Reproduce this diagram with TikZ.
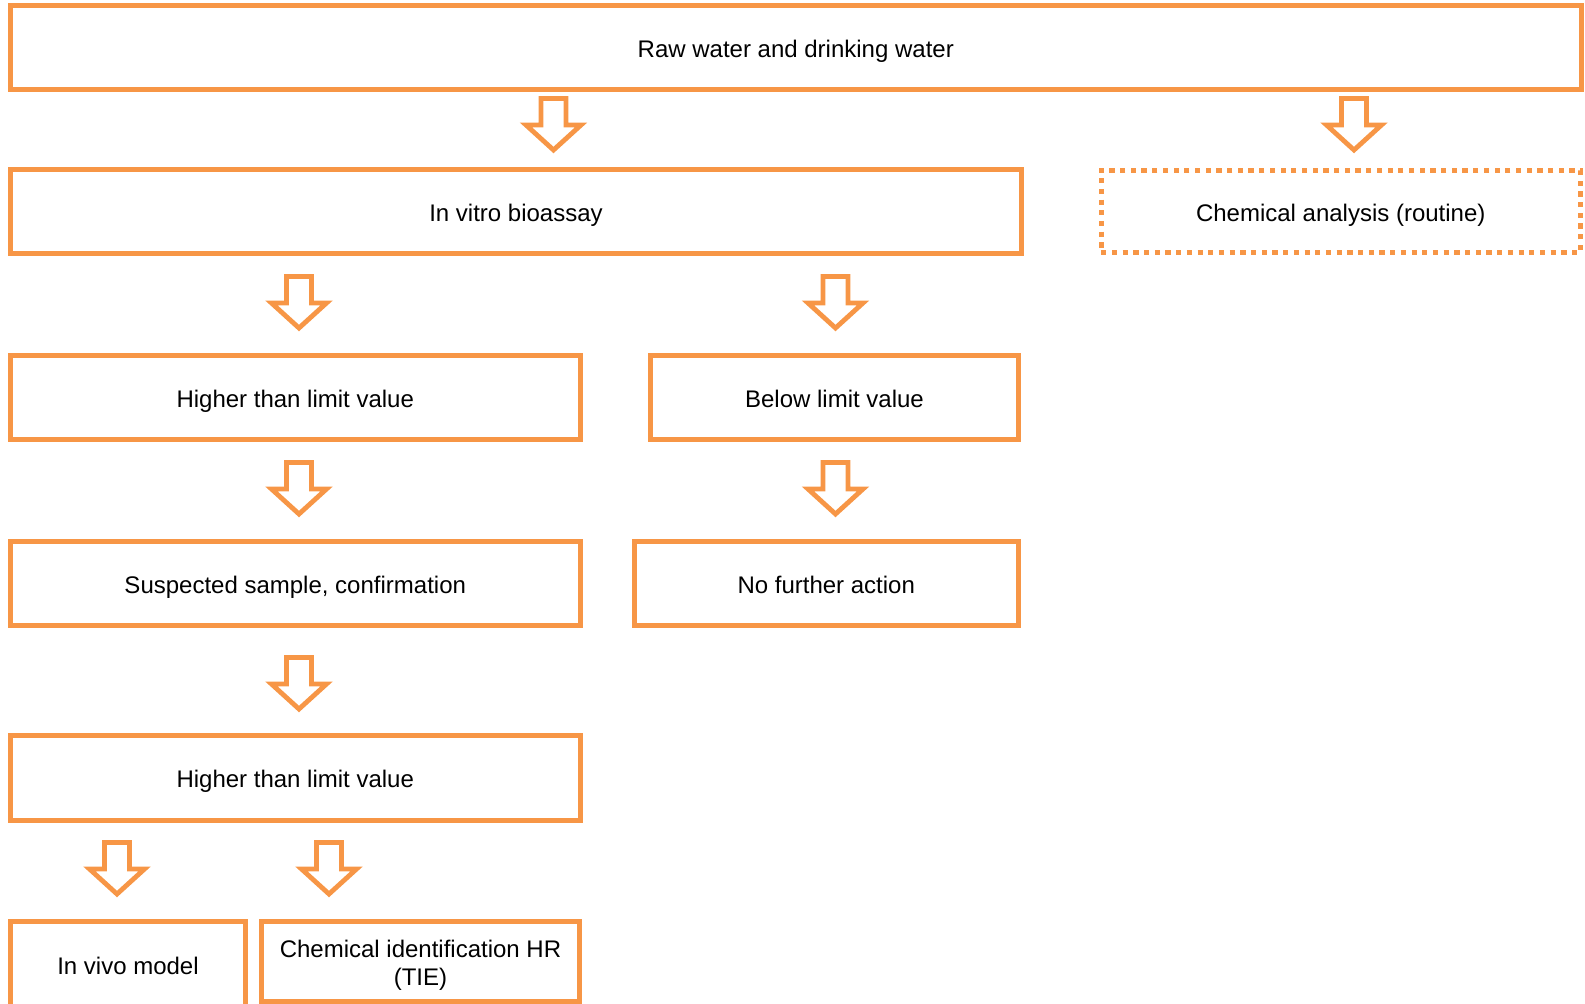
\documentclass[tikz,border=0pt]{standalone}
\usepackage{fontspec}
\setmainfont{Liberation Sans}
\definecolor{acc}{HTML}{F79646}
\begin{document}
\begin{tikzpicture}[x=0.5pt,y=-0.5pt,
  box/.style={draw=acc, line width=2.5pt, inner sep=0pt, outer sep=0pt,
    font=\fontsize{12}{14.25}\selectfont, align=center, text height=12.6pt, text depth=2.5pt},
  dotbox/.style={box, dash pattern=on 2.6pt off 2.75pt},
  blockarrow/.pic={\draw[acc, line width=2.4pt, line join=miter, miter limit=10]
    (-12.5,2.5) -- (12.5,2.5) -- (12.5,29) -- (27.5,29) -- (0,54) -- (-27.5,29) -- (-12.5,29) -- cycle;}]
\useasboundingbox (0,0) rectangle (1585,1003);

\node[box, minimum width=785.25pt, minimum height=42.25pt] (raw) at (795.75,47.25) {Raw water and drinking water};
\node[box, minimum width=505.5pt, minimum height=42pt] (vitro) at (516,211.5) {In vitro bioassay};
\node[dotbox, minimum width=239.5pt, minimum height=41.25pt] (chem) at (1340.75,211.25) {Chemical analysis (routine)};
\node[box, minimum width=284.75pt, minimum height=42.25pt] (high1) at (295.25,397.25) {Higher than limit value};
\node[box, minimum width=184pt, minimum height=42.25pt] (below) at (834.5,397.25) {Below limit value};
\node[box, minimum width=284.75pt, minimum height=42pt] (susp) at (295.25,583) {Suspected sample, confirmation};
\node[box, minimum width=192.25pt, minimum height=42pt] (nofurther) at (826.25,583) {No further action};
\node[box, minimum width=284.75pt, minimum height=42.5pt] (high2) at (295.25,777.5) {Higher than limit value};
\node[box, minimum width=117.5pt, minimum height=42.75pt] (invivo) at (128,964.25) {In vivo model};
\node[box, minimum width=159pt, minimum height=39.75pt, text height=, text depth=] (chemid) at (420.5,961.25)
  {\raisebox{-2.15pt}[24.225pt][4.275pt]{\begin{tabular}[b]{@{}c@{}}Chemical identification HR\\(TIE)\end{tabular}}};

\pic (a1) at (553.5,96) {blockarrow};
\pic (a2) at (1354,96) {blockarrow};
\pic (a3) at (299,274) {blockarrow};
\pic (a4) at (835.5,274) {blockarrow};
\pic (a5) at (299,460) {blockarrow};
\pic (a6) at (835.5,460) {blockarrow};
\pic (a7) at (299,655) {blockarrow};
\pic (a8) at (117,840) {blockarrow};
\pic (a9) at (329,840) {blockarrow};
\end{tikzpicture}
\end{document}
